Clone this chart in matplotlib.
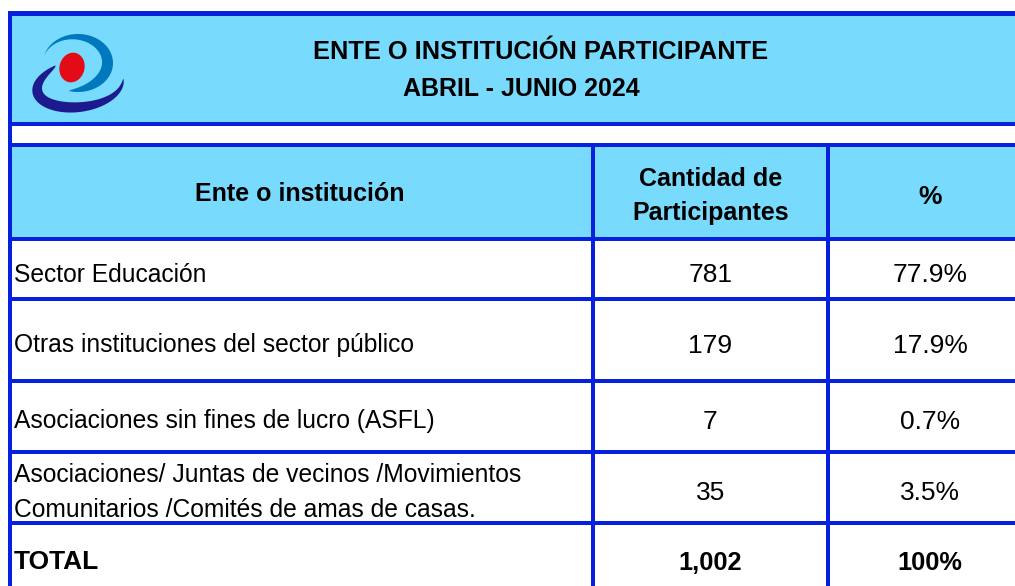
import matplotlib
matplotlib.use("Agg")
import matplotlib.pyplot as plt
import numpy as np
from matplotlib.patches import Rectangle, Polygon, Ellipse

# ---------------- data ----------------
title_lines = ["ENTE O INSTITUCIÓN PARTICIPANTE", "ABRIL - JUNIO 2024"]
col_headers = ["Ente o institución", "Cantidad de\nParticipantes", "%"]
categories = [
    "Sector Educación",
    "Otras instituciones del sector público",
    "Asociaciones sin fines de lucro (ASFL)",
    "Asociaciones/ Juntas de vecinos /Movimientos\nComunitarios /Comités de amas de casas.",
]
participants = [781, 179, 7, 35]
percentages = [77.9, 17.9, 0.7, 3.5]
total_label = "TOTAL"
total_participants = "1,002"
total_pct = "100%"

# ---------------- style ----------------
LINE = "#0521DD"
FILL = "#78DBFD"
FONT = ["Liberation Sans", "DejaVu Sans"]

W, H = 1015, 586
fig = plt.figure(figsize=(W / 100, H / 100), dpi=100)
ax = fig.add_axes([0, 0, 1, 1])
ax.set_xlim(0, W)
ax.set_ylim(H, 0)
ax.axis("off")

px = 0.72  # points per pixel

# layout (pixels)
x_left, x_c1, x_c2, x_right = 10, 593, 828, 1032
title_top, title_bot = 13, 124
head_top, head_bot = 145, 239
row_lines = [239, 299, 381, 452, 523]

# fills
ax.add_patch(Rectangle((x_left, title_top), x_right - x_left, title_bot - title_top,
                       facecolor=FILL, edgecolor="none", zorder=1))
ax.add_patch(Rectangle((x_left, head_top), x_right - x_left, head_bot - head_top,
                       facecolor=FILL, edgecolor="none", zorder=1))

# lines
lw = 4 * px
ax.hlines(title_top, x_left - 2, x_right, color=LINE, lw=5 * px, zorder=3)
ax.hlines([title_bot, head_top], x_left - 2, x_right, color=LINE, lw=lw, zorder=3)
ax.hlines(row_lines, x_left, x_right, color=LINE, lw=lw, zorder=3)
ax.vlines(x_left, title_top - 2, H + 20, color=LINE, lw=lw, zorder=3)
ax.vlines([x_c1, x_c2], head_top, H + 20, color=LINE, lw=lw, zorder=3)
ax.vlines(x_right, title_top, H + 20, color=LINE, lw=lw, zorder=3)


# logo (decoration)
def crescent(cx, cy, a, b, phi, th1, th2, tmax, k, color):
    t = np.radians(np.linspace(th1, th2, 300))
    f = np.linspace(0, 1, 300)
    g = f ** k
    thick = tmax * np.sin(np.pi * g) ** 0.7
    c, s = np.cos(np.radians(phi)), np.sin(np.radians(phi))

    def pts(aa, bb):
        lx = aa * np.cos(t)
        ly = -bb * np.sin(t)
        return np.column_stack([cx + lx * c + ly * s, cy - lx * s + ly * c])

    outer = pts(a, b)
    inner = pts(a - thick, b - thick)
    poly = np.concatenate([outer, inner[::-1]])
    ax.add_patch(Polygon(poly, closed=True, facecolor=color, edgecolor="none", zorder=4))


crescent(78, 63, 35, 29, 0, 165, -105, 11, 1.6, "#0078BE")
crescent(78, 86, 46, 26, 8, 115, 362, 11, 0.8, "#1C1A8C")
ax.add_patch(Ellipse((72, 67.5), 25, 30, angle=15, facecolor="#E30B17",
                     edgecolor="none", zorder=5))

# title
ax.text(541, 59, title_lines[0], ha="center", va="baseline", fontsize=18.3,
        fontweight="bold", family=FONT, zorder=6)
ax.text(521, 96, title_lines[1], ha="center", va="baseline", fontsize=18,
        fontweight="bold", family=FONT, zorder=6)

# header
cx1 = (x_left + x_c1) / 2
cx2 = (x_c1 + x_c2) / 2
cx3 = (x_c2 + x_right) / 2
hs = 18
ax.text(cx1 - 2, 201, col_headers[0], ha="center", va="baseline", fontsize=hs,
        fontweight="bold", family=FONT, zorder=6)
h2 = col_headers[1].split("\n")
ax.text(cx2, 186, h2[0], ha="center", va="baseline", fontsize=hs,
        fontweight="bold", family=FONT, zorder=6)
ax.text(cx2, 220, h2[1], ha="center", va="baseline", fontsize=hs,
        fontweight="bold", family=FONT, zorder=6)
ax.text(cx3, 204, col_headers[2], ha="center", va="baseline", fontsize=hs + 1,
        fontweight="bold", family=FONT, zorder=6)

# body rows
label_baselines = [282, 352, 428, [482, 517]]
value_baselines = [282, 353, 429, 500]
ls, vs = 17.7, 19
for i, cat in enumerate(categories):
    bl = label_baselines[i]
    lines = cat.split("\n")
    if isinstance(bl, list):
        for ln, b in zip(lines, bl):
            ax.text(14, b, ln, ha="left", va="baseline", fontsize=ls, family=FONT, zorder=6)
    else:
        ax.text(14, bl, cat, ha="left", va="baseline", fontsize=ls, family=FONT, zorder=6)
    ax.text(cx2, value_baselines[i], f"{participants[i]:,}", ha="center", va="baseline",
            fontsize=vs, family=FONT, zorder=6)
    ax.text(cx3, value_baselines[i], f"{percentages[i]:.1f}%", ha="center", va="baseline",
            fontsize=vs, family=FONT, zorder=6)

ax.text(14, 569, total_label, ha="left", va="baseline", fontsize=19, fontweight="bold",
        family=FONT, zorder=6)
ax.text(cx2, 570, total_participants, ha="center", va="baseline", fontsize=18.3,
        fontweight="bold", family=FONT, zorder=6)
ax.text(cx3, 570, total_pct, ha="center", va="baseline", fontsize=18.3,
        fontweight="bold", family=FONT, zorder=6)

fig.savefig("out.png", dpi=100, facecolor="white")
